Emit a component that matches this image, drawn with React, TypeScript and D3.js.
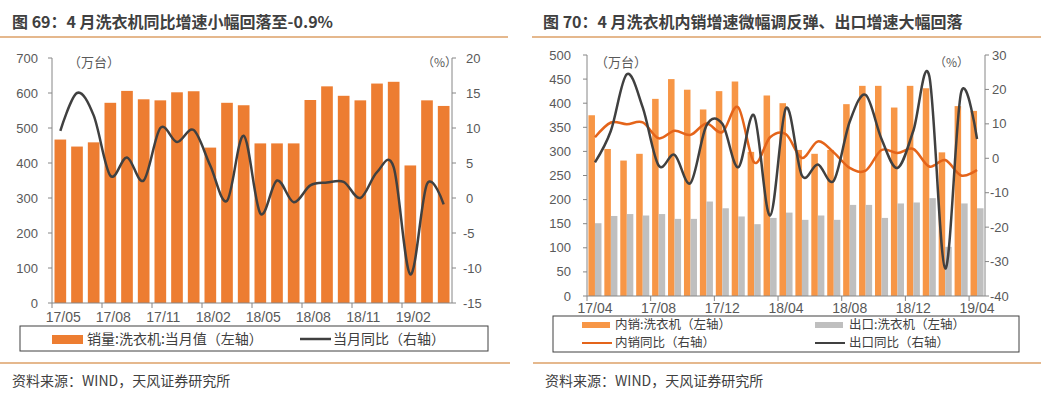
import React from "react";
import * as d3 from "d3";

// ---- data ----
const monthsL = [
  "17/05", "17/06", "17/07", "17/08", "17/09", "17/10", "17/11", "17/12",
  "18/01", "18/02", "18/03", "18/04", "18/05", "18/06", "18/07", "18/08",
  "18/09", "18/10", "18/11", "18/12", "19/01", "19/02", "19/03", "19/04",
];
const salesL = [
  467, 447, 459, 572, 606, 582, 579, 602, 605, 444, 572, 565,
  456, 456, 456, 580, 619, 592, 579, 627, 632, 393, 579, 563,
];
const yoyL = [
  9.6, 15.0, 11.8, 3.2, 5.8, 2.5, 10.0, 8.0, 9.7, 4.6, -0.4, 8.9,
  -2.2, 2.5, -0.6, 1.8, 2.2, 2.3, 0.0, 3.7, 4.4, -10.9, 2.0, -0.9,
];

const monthsR = [
  "17/04", "17/05", "17/06", "17/07", "17/08", "17/09", "17/10", "17/11",
  "17/12", "18/01", "18/02", "18/03", "18/04", "18/05", "18/06", "18/07",
  "18/08", "18/09", "18/10", "18/11", "18/12", "19/01", "19/02", "19/03", "19/04",
];
const domestic = [
  375, 305, 281, 295, 409, 450, 428, 387, 425, 445, 299, 416, 400,
  303, 295, 303, 398, 436, 436, 391, 436, 431, 298, 394, 384,
];
const exportsR = [
  151, 166, 170, 167, 170, 160, 160, 196, 182, 165, 149, 162, 173,
  158, 167, 158, 189, 189, 162, 192, 194, 203, 102, 192, 182,
];
const domesticYoy = [
  6.1, 10.4, 9.9, 10.4, 5.8, 8.0, 6.8, 10.1, 7.6, 14.8, -1.2, 6.1, 7.0,
  0.1, 4.9, 1.7, -2.8, -3.6, 2.4, 1.5, 2.7, -2.4, -0.5, -5.0, -3.4,
];
const exportYoy = [
  -1.2, 8.0, 24.4, 14.8, -2.1, 1.0, -7.2, 9.5, 10.0, -2.6, 12.4, -16.6, 14.6,
  -5.0, -1.8, -6.5, 10.6, 18.4, 5.6, -2.8, 8.0, 23.9, -32.0, 19.1, 5.6,
];

const labelsL = ["17/05", "17/08", "17/11", "18/02", "18/05", "18/08", "18/11", "19/02"];
const labelsR = ["17/04", "17/08", "17/12", "18/04", "18/08", "18/12", "19/04"];

const FONT = '"Liberation Sans", "Noto Sans CJK SC", sans-serif';
const CJK = '"Noto Sans CJK SC", sans-serif';
const AXIS = "#868686";
const TXT = "#595959";
const DARK = "#404040";
const RULE = "#DDA067";

const smooth = d3.curveCardinal.tension(0);

function LeftChart() {
  const x = d3.scaleBand<string>().domain(monthsL).range([52, 452]).paddingInner(0.3).paddingOuter(0.15);
  const y = d3.scaleLinear().domain([0, 700]).range([303, 58]);
  const y2 = d3.scaleLinear().domain([-15, 20]).range([303, 58]);
  const step = x.step();
  const cx = (m: string) => (x(m) as number) + x.bandwidth() / 2;
  const line = d3
    .line<number>()
    .x((_, i) => cx(monthsL[i]))
    .y(d => y2(d))
    .curve(smooth);

  return (
    <g>
      <text x={12} y={28} fontFamily={CJK} fontWeight="bold" fontSize={16} fill={DARK}>
        图 69：4 月洗衣机同比增速小幅回落至-0.9%
      </text>
      <line x1={0} x2={508} y1={37} y2={37} stroke={RULE} strokeWidth={1.5} />

      {monthsL.map((m, i) => (
        <rect key={m} x={x(m)} y={y(salesL[i])} width={x.bandwidth()} height={y(0) - y(salesL[i])} fill="#ED7D31" />
      ))}
      <path d={line(yoyL) || ""} fill="none" stroke={DARK} strokeWidth={2.5} />

      {/* left axis */}
      <line x1={52} x2={52} y1={58} y2={303} stroke={AXIS} />
      {y.ticks(7).map(t => (
        <g key={t}>
          <line x1={48} x2={52} y1={y(t)} y2={y(t)} stroke={AXIS} />
          <text x={38} y={y(t)} dy="0.35em" textAnchor="end" fontFamily={FONT} fontSize={13} fill={TXT}>
            {t}
          </text>
        </g>
      ))}
      {/* right axis */}
      <line x1={452} x2={452} y1={58} y2={303} stroke={AXIS} />
      {y2.ticks(7).map(t => (
        <g key={t}>
          <line x1={452} x2={456} y1={y2(t)} y2={y2(t)} stroke={AXIS} />
          <text x={t < 0 ? 463 : 466} y={y2(t)} dy="0.35em" fontFamily={FONT} fontSize={13} fill={TXT}>
            {t}
          </text>
        </g>
      ))}
      {/* bottom axis */}
      <line x1={52} x2={452} y1={303} y2={303} stroke={AXIS} />
      {labelsL.map(m => (
        <g key={m}>
          <line x1={(x(m) as number) - step * 0.15} x2={(x(m) as number) - step * 0.15} y1={303} y2={308} stroke={AXIS} />
          <text x={cx(m) + 3} y={317} dy="0.35em" textAnchor="middle" fontFamily={FONT} fontSize={14} fill={TXT}>
            {m}
          </text>
        </g>
      ))}
      <text x={68} y={62} dy="0.35em" fontFamily={CJK} fontSize={13} fill={TXT}>（万台）</text>
      <text x={422} y={63} dy="0.35em" fontFamily={CJK} fontSize={12} fill={TXT}>（%）</text>

      {/* legend */}
      <rect x={20} y={326} width={468} height={25} fill="none" stroke={DARK} strokeWidth={1} />
      <rect x={52} y={335} width={31} height={9} fill="#ED7D31" />
      <text x={87} y={339} dy="0.35em" fontFamily={CJK} fontSize={14} fill={DARK}>销量:洗衣机:当月值（左轴）</text>
      <line x1={300} x2={331} y1={339} y2={339} stroke={DARK} strokeWidth={2.5} />
      <text x={333} y={339} dy="0.35em" fontFamily={CJK} fontSize={14} fill={DARK}>当月同比（右轴）</text>

      <line x1={0} x2={510} y1={363} y2={363} stroke={RULE} strokeWidth={1.5} />
      <text x={12} y={381} dy="0.35em" fontFamily={CJK} fontSize={14} fill={DARK}>资料来源：WIND，天风证券研究所</text>
    </g>
  );
}

function RightChart() {
  const x = d3.scaleBand<string>().domain(monthsR).range([587, 985]).paddingInner(0.18).paddingOuter(0.09);
  const sub = d3.scaleBand<string>().domain(["d", "e"]).range([0, x.bandwidth()]);
  const y = d3.scaleLinear().domain([0, 500]).range([296, 55]);
  const y2 = d3.scaleLinear().domain([-40, 30]).range([296, 55]);
  const step = x.step();
  const cx = (m: string) => (x(m) as number) + x.bandwidth() / 2;
  const line = d3
    .line<number>()
    .x((_, i) => cx(monthsR[i]))
    .y(d => y2(d))
    .curve(smooth);

  return (
    <g>
      <text x={543} y={28} fontFamily={CJK} fontWeight="bold" fontSize={16} fill={DARK}>
        图 70：4 月洗衣机内销增速微幅调反弹、出口增速大幅回落
      </text>
      <line x1={532} x2={1041} y1={37} y2={37} stroke={RULE} strokeWidth={1.5} />

      {monthsR.map((m, i) => (
        <g key={m}>
          <rect x={(x(m) as number) + (sub("d") as number)} y={y(domestic[i])} width={sub.bandwidth()} height={y(0) - y(domestic[i])} fill="#F79646" />
          <rect x={(x(m) as number) + (sub("e") as number)} y={y(exportsR[i])} width={sub.bandwidth()} height={y(0) - y(exportsR[i])} fill="#BFBFBF" />
        </g>
      ))}
      <path d={line(domesticYoy) || ""} fill="none" stroke="#E4641A" strokeWidth={2.5} />
      <path d={line(exportYoy) || ""} fill="none" stroke={DARK} strokeWidth={2.5} />

      <line x1={587} x2={587} y1={55} y2={296} stroke={AXIS} />
      {y.ticks(10).map(t => (
        <g key={t}>
          <line x1={583} x2={587} y1={y(t)} y2={y(t)} stroke={AXIS} />
          <text x={571} y={y(t)} dy="0.35em" textAnchor="end" fontFamily={FONT} fontSize={13} fill={TXT}>
            {t}
          </text>
        </g>
      ))}
      <line x1={985} x2={985} y1={55} y2={296} stroke={AXIS} />
      {y2.ticks(7).map(t => (
        <g key={t}>
          <line x1={985} x2={989} y1={y2(t)} y2={y2(t)} stroke={AXIS} />
          <text x={t < 0 ? 990 : 992} y={y2(t)} dy="0.35em" fontFamily={FONT} fontSize={13} fill={TXT}>
            {t}
          </text>
        </g>
      ))}
      <line x1={587} x2={985} y1={296} y2={296} stroke={AXIS} />
      {labelsR.map(m => (
        <g key={m}>
          <line x1={(x(m) as number) - step * 0.09} x2={(x(m) as number) - step * 0.09} y1={296} y2={301} stroke={AXIS} />
          <text x={cx(m)} y={308} dy="0.35em" textAnchor="middle" fontFamily={FONT} fontSize={14} fill={TXT}>
            {m}
          </text>
        </g>
      ))}
      <text x={595} y={62} dy="0.35em" fontFamily={CJK} fontSize={13} fill={TXT}>（万台）</text>
      <text x={934} y={63} dy="0.35em" fontFamily={CJK} fontSize={12} fill={TXT}>（%）</text>

      <rect x={553} y={316} width={466} height={36} fill="none" stroke={DARK} strokeWidth={1} />
      <rect x={582} y={322} width={28} height={6} fill="#F79646" />
      <text x={615} y={325} dy="0.35em" fontFamily={CJK} fontSize={12.5} fill={DARK}>内销:洗衣机（左轴）</text>
      <rect x={815} y={322} width={28} height={6} fill="#BFBFBF" />
      <text x={849} y={325} dy="0.35em" fontFamily={CJK} fontSize={12.5} fill={DARK}>出口:洗衣机（左轴）</text>
      <line x1={582} x2={612} y1={343} y2={343} stroke="#E4641A" strokeWidth={2} />
      <text x={615} y={343} dy="0.35em" fontFamily={CJK} fontSize={12.5} fill={DARK}>内销同比（右轴）</text>
      <line x1={815} x2={845} y1={343} y2={343} stroke={DARK} strokeWidth={2} />
      <text x={849} y={343} dy="0.35em" fontFamily={CJK} fontSize={12.5} fill={DARK}>出口同比（右轴）</text>

      <line x1={533} x2={1041} y1={363} y2={363} stroke={RULE} strokeWidth={1.5} />
      <text x={545} y={381} dy="0.35em" fontFamily={CJK} fontSize={14} fill={DARK}>资料来源：WIND，天风证券研究所</text>
    </g>
  );
}

export default function App() {
  return (
    <svg
      width={1041}
      height={399}
      viewBox="0 0 1041 399"
      style={{ position: "absolute", left: 0, top: 0, display: "block", background: "#fff" }}
    >
      <LeftChart />
      <RightChart />
    </svg>
  );
}
